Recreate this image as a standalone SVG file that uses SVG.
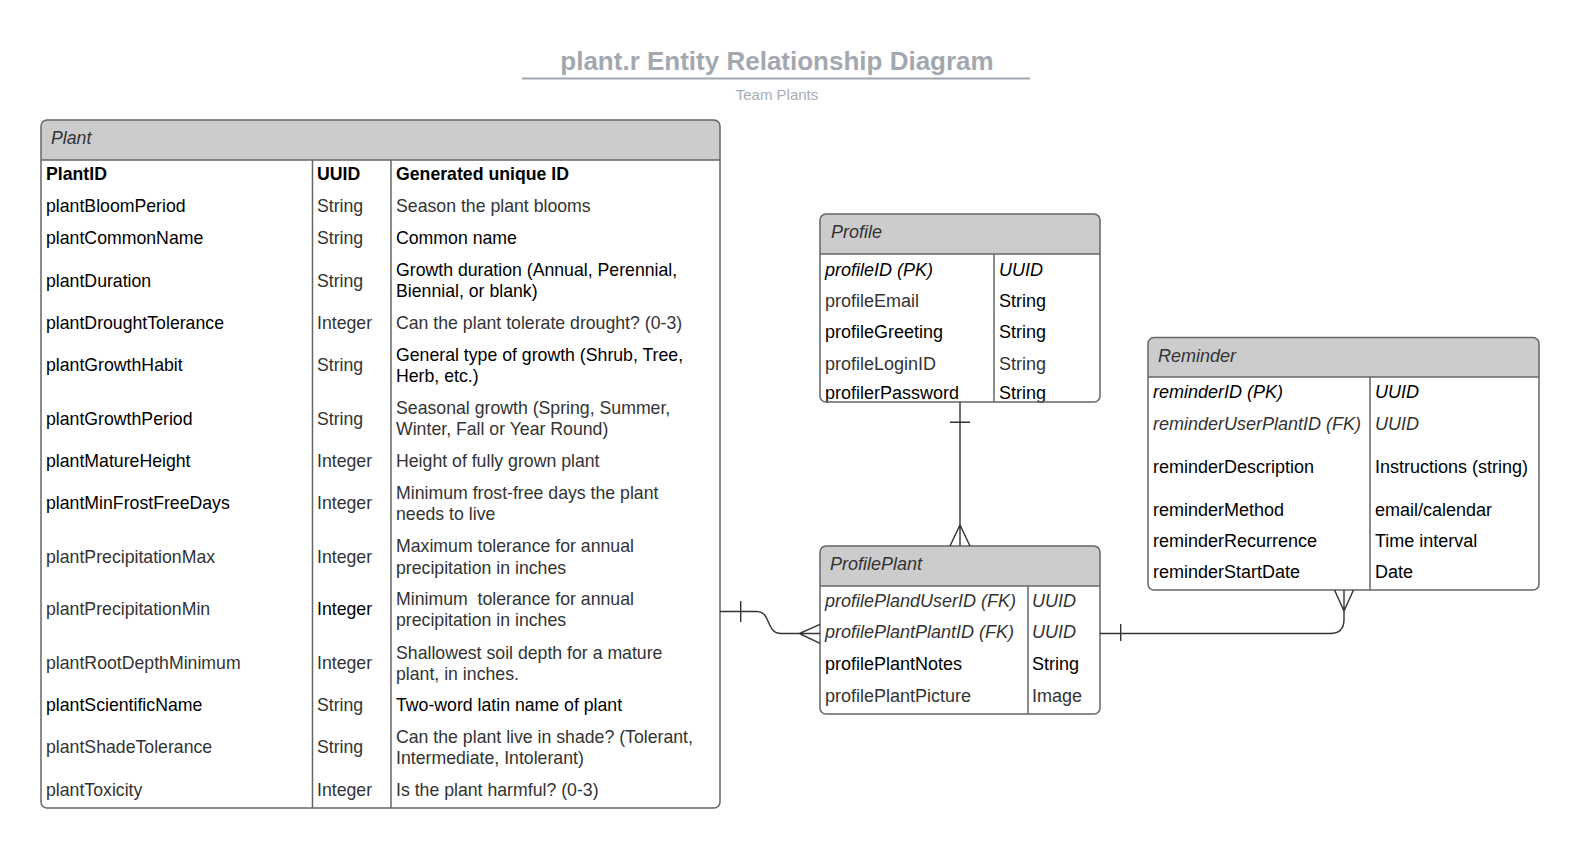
<svg xmlns="http://www.w3.org/2000/svg" width="1580" height="848" viewBox="0 0 1580 848">
<style>
text{font-family:"Liberation Sans",Arial,sans-serif;font-size:18px;fill:#000}
#plant text{font-size:17.7px}
.g{fill:#333}
.i{font-style:italic}
.b{font-weight:bold}
.hdr{fill:#cccccc;stroke:none}
.box{fill:none;stroke:#666;stroke-width:1.5}
.ln{stroke:#666;stroke-width:1.5;fill:none}
.con{stroke:#333;stroke-width:1.4;fill:none}
.title{font-size:26px;font-weight:bold;fill:#a3a8b0}
.sub{font-size:15px;fill:#a8adb5}
</style>
<rect width="1580" height="848" fill="#fff"/>
<g id="title">
<text class="title" x="777" y="70" text-anchor="middle">plant.r Entity Relationship Diagram</text>
<line x1="522" y1="78.6" x2="1030" y2="78.6" stroke="#a0a6ae" stroke-width="2"/>
<text class="sub" x="777" y="99.5" text-anchor="middle">Team Plants</text>
</g>

<g id="plant">
<rect x="41" y="120" width="679" height="688" rx="6" fill="#fff"/>
<path class="hdr" d="M41 160V126a6 6 0 0 1 6-6H714a6 6 0 0 1 6 6V160Z"/>
<line class="ln" x1="41" y1="160" x2="720" y2="160"/>
<line class="ln" x1="312.5" y1="160" x2="312.5" y2="808"/>
<line class="ln" x1="391" y1="160" x2="391" y2="808"/>
<rect class="box" x="41" y="120" width="679" height="688" rx="6"/>
<text class="g i" x="51" y="144">Plant</text>
<text class="b" x="46" y="180">PlantID</text><text class="b" x="317" y="180">UUID</text><text class="b" x="396" y="180">Generated unique ID</text>
<text x="46" y="212">plantBloomPeriod</text><text class="g" x="317" y="212">String</text><text class="g" x="396" y="212">Season the plant blooms</text>
<text x="46" y="244">plantCommonName</text><text class="g" x="317" y="244">String</text><text x="396" y="244">Common name</text>
<text x="46" y="286.5">plantDuration</text><text class="g" x="317" y="286.5">String</text><text x="396" y="275.5">Growth duration (Annual, Perennial,</text><text x="396" y="296.5">Biennial, or blank)</text>
<text x="46" y="329">plantDroughtTolerance</text><text class="g" x="317" y="329">Integer</text><text class="g" x="396" y="329">Can the plant tolerate drought? (0-3)</text>
<text x="46" y="371">plantGrowthHabit</text><text class="g" x="317" y="371">String</text><text x="396" y="361">General type of growth (Shrub, Tree,</text><text x="396" y="382">Herb, etc.)</text>
<text x="46" y="424.5">plantGrowthPeriod</text><text class="g" x="317" y="424.5">String</text><text class="g" x="396" y="413.5">Seasonal growth (Spring, Summer,</text><text class="g" x="396" y="434.5">Winter, Fall or Year Round)</text>
<text x="46" y="467">plantMatureHeight</text><text class="g" x="317" y="467">Integer</text><text class="g" x="396" y="467">Height of fully grown plant</text>
<text x="46" y="509">plantMinFrostFreeDays</text><text class="g" x="317" y="509">Integer</text><text class="g" x="396" y="499">Minimum frost-free days the plant</text><text class="g" x="396" y="520">needs to live</text>
<text class="g" x="46" y="562.5">plantPrecipitationMax</text><text class="g" x="317" y="562.5">Integer</text><text class="g" x="396" y="551.5">Maximum tolerance for annual</text><text class="g" x="396" y="573.5">precipitation in inches</text>
<text class="g" x="46" y="615">plantPrecipitationMin</text><text x="317" y="615">Integer</text><text class="g" x="396" y="605" xml:space="preserve">Minimum  tolerance for annual</text><text class="g" x="396" y="626">precipitation in inches</text>
<text class="g" x="46" y="668.5">plantRootDepthMinimum</text><text class="g" x="317" y="668.5">Integer</text><text class="g" x="396" y="658.5">Shallowest soil depth for a mature</text><text class="g" x="396" y="679.5">plant, in inches.</text>
<text x="46" y="710.5">plantScientificName</text><text class="g" x="317" y="710.5">String</text><text x="396" y="710.5">Two-word latin name of plant</text>
<text class="g" x="46" y="753">plantShadeTolerance</text><text class="g" x="317" y="753">String</text><text class="g" x="396" y="743">Can the plant live in shade? (Tolerant,</text><text class="g" x="396" y="764">Intermediate, Intolerant)</text>
<text class="g" x="46" y="795.5">plantToxicity</text><text class="g" x="317" y="795.5">Integer</text><text class="g" x="396" y="795.5">Is the plant harmful? (0-3)</text>
</g>

<g id="profile">
<rect x="820" y="214" width="280" height="188" rx="6" fill="#fff"/>
<path class="hdr" d="M820 254V220a6 6 0 0 1 6-6H1094a6 6 0 0 1 6 6V254Z"/>
<line class="ln" x1="820" y1="254" x2="1100" y2="254"/>
<line class="ln" x1="994" y1="254" x2="994" y2="402"/>
<text class="g i" x="831" y="238">Profile</text>
<text class="i" x="825" y="275.5">profileID (PK)</text><text class="i" x="999" y="275.5">UUID</text>
<text class="g" x="825" y="306.5">profileEmail</text><text x="999" y="306.5">String</text>
<text x="825" y="338">profileGreeting</text><text x="999" y="338">String</text>
<text class="g" x="825" y="370">profileLoginID</text><text class="g" x="999" y="370">String</text>
<text x="825" y="399">profilerPassword</text><text x="999" y="399">String</text>
<rect class="box" x="820" y="214" width="280" height="188" rx="6"/>
</g>

<g id="reminder">
<rect x="1148" y="337.5" width="391" height="252.5" rx="6" fill="#fff"/>
<path class="hdr" d="M1148 377V343.5a6 6 0 0 1 6-6H1533a6 6 0 0 1 6 6V377Z"/>
<line class="ln" x1="1148" y1="377" x2="1539" y2="377"/>
<line class="ln" x1="1370" y1="377" x2="1370" y2="590"/>
<rect class="box" x="1148" y="337.5" width="391" height="252.5" rx="6"/>
<text class="g i" x="1158" y="361.5">Reminder</text>
<text class="i" x="1153" y="398">reminderID (PK)</text><text class="i" x="1375" y="398">UUID</text>
<text class="g i" x="1153" y="430">reminderUserPlantID (FK)</text><text class="g i" x="1375" y="430">UUID</text>
<text x="1153" y="473">reminderDescription</text><text x="1375" y="473">Instructions (string)</text>
<text x="1153" y="515.5">reminderMethod</text><text x="1375" y="515.5">email/calendar</text>
<text x="1153" y="546.5">reminderRecurrence</text><text x="1375" y="546.5">Time interval</text>
<text x="1153" y="578">reminderStartDate</text><text x="1375" y="578">Date</text>
</g>

<g id="profileplant">
<rect x="820" y="546" width="280" height="168" rx="6" fill="#fff"/>
<path class="hdr" d="M820 586V552a6 6 0 0 1 6-6H1094a6 6 0 0 1 6 6V586Z"/>
<line class="ln" x1="820" y1="586" x2="1100" y2="586"/>
<line class="ln" x1="1028" y1="586" x2="1028" y2="714"/>
<rect class="box" x="820" y="546" width="280" height="168" rx="6"/>
<text class="g i" x="830" y="569.5">ProfilePlant</text>
<text class="g i" x="825" y="606.5">profilePlandUserID (FK)</text><text class="g i" x="1032" y="606.5">UUID</text>
<text class="g i" x="825" y="638">profilePlantPlantID (FK)</text><text class="g i" x="1032" y="638">UUID</text>
<text x="825" y="670">profilePlantNotes</text><text x="1032" y="670">String</text>
<text class="g" x="825" y="701.5">profilePlantPicture</text><text class="g" x="1032" y="701.5">Image</text>
</g>

<g id="connectors">
<path class="con" d="M960 402V546M950 422.3H970M950 546L960 525L970 546"/>
<path class="con" d="M720 611.5H757C771 611.5 766 633.5 781 633.5H820M740.7 601V622M820 624.3L799.3 633.5L820 643.3"/>
<path class="con" d="M1100 633.5H1330Q1344 633.5 1344 619.5V590M1120.7 624V641M1334.5 590L1344 611L1353.5 590"/>
</g>
</svg>
